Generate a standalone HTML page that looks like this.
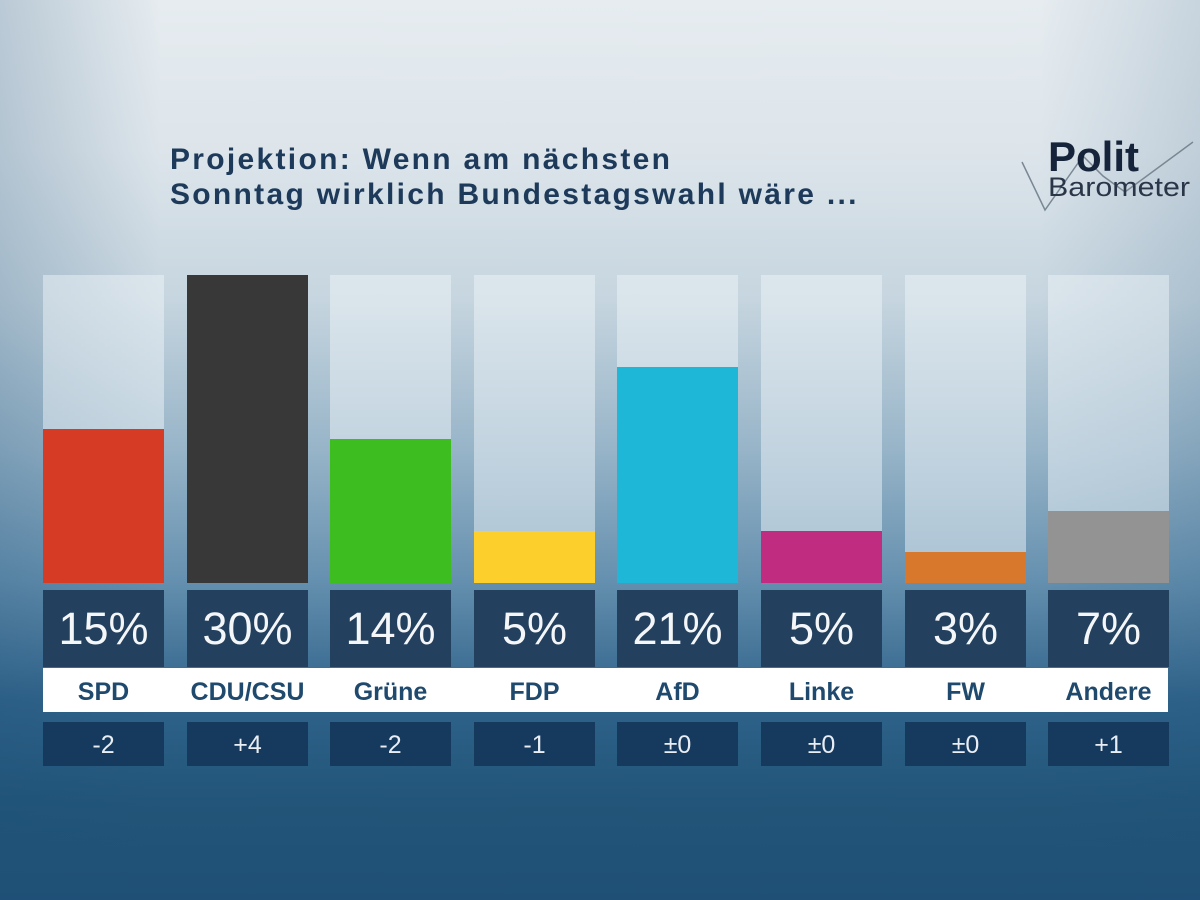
<!DOCTYPE html>
<html><head><meta charset="utf-8"><style>
body{margin:0;width:1200px;height:900px;overflow:hidden;font-family:"Liberation Sans",sans-serif;}
#bg{position:absolute;left:0;top:0;width:1200px;height:900px;background:linear-gradient(180deg,#e6ecf0 0px,#dde5eb 150px,#c6d5df 300px,#97b4c8 450px,#6590af 580px,#30638a 700px,#225579 800px,#1f4f75 900px);}
#side{position:absolute;left:0;top:0;width:1200px;height:900px;background:linear-gradient(90deg,rgba(30,80,120,0.22) 0px,rgba(30,80,120,0) 160px,rgba(30,80,120,0) 1040px,rgba(30,80,120,0.15) 1200px);}
.t{position:absolute;left:170px;top:142px;font-size:30px;letter-spacing:2.3px;font-weight:bold;color:#1d3a5a;line-height:35px;}
.track{position:absolute;top:275px;height:308px;width:121px;background:rgba(238,244,248,0.5);}
.bar{position:absolute;width:121px;}
.val{position:absolute;top:590px;height:77px;width:121px;background:#23415f;color:#f4f6f8;font-size:45px;text-align:center;line-height:78px;}
.chg{position:absolute;top:722px;height:44px;width:121px;background:#163a5e;color:#e8eef3;font-size:25px;text-align:center;line-height:46px;}
.lab{position:absolute;top:668px;height:44px;width:121px;color:#1f4a6e;font-size:25px;font-weight:bold;text-align:center;line-height:48px;white-space:nowrap;}
#strip{position:absolute;left:43px;top:668px;width:1125px;height:44px;background:#fff;}
</style></head><body>
<div id="bg"></div><div id="side"></div>
<div class="t">Projektion: Wenn am nächsten<br>Sonntag wirklich Bundestagswahl wäre ...</div>
<svg style="position:absolute;left:1015px;top:130px" width="185" height="85"><polyline points="7,32 30,80 68,26 88,46 110,62 178,12" fill="none" stroke="#7a8894" stroke-width="1.5"/>
<text x="33" y="41" font-family="Liberation Sans" font-weight="bold" font-size="42" fill="#15243a">Polit</text>
<text x="33" y="66" font-family="Liberation Sans" font-size="27" fill="#2a3648" textLength="142" lengthAdjust="spacingAndGlyphs">Barometer</text></svg>
<div id="strip"></div>
<div id="c"></div>
<script>
var d=[["SPD",15,"-2","#d63b25",429],["CDU/CSU",30,"+4","#383838",275],["Grüne",14,"-2","#3dbd20",439],["FDP",5,"-1","#fdcf2c",531],["AfD",21,"±0","#1fb7d8",367],["Linke",5,"±0","#c02d80",531],["FW",3,"±0","#d7782c",552],["Andere",7,"+1","#939393",511]];
var h="";d.forEach(function(e,i){var x=43+Math.round(i*143.6);
h+='<div class="track" style="left:'+x+'px"></div><div class="bar" style="left:'+x+'px;top:'+e[4]+'px;height:'+(583-e[4])+'px;background:'+e[3]+'"></div>';
h+='<div class="val" style="left:'+x+'px">'+e[1]+'%</div><div class="lab" style="left:'+x+'px">'+e[0]+'</div><div class="chg" style="left:'+x+'px">'+e[2]+'</div>';});
document.getElementById("c").innerHTML=h;
</script>
</body></html>
